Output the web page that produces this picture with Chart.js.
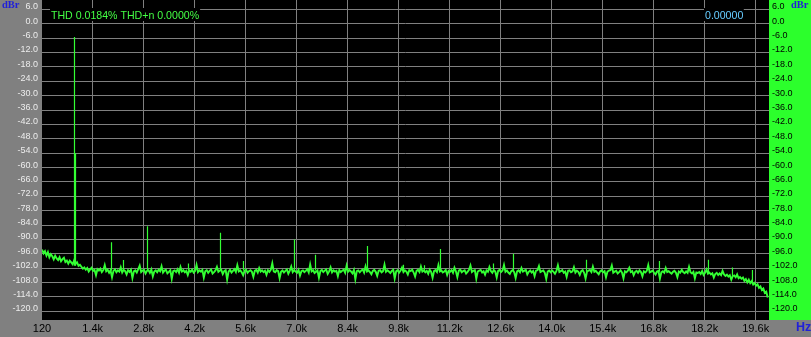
<!DOCTYPE html>
<html><head><meta charset="utf-8">
<script src="https://cdn.jsdelivr.net/npm/chart.js@4"></script>
<style>html,body{margin:0;padding:0;background:#808080;overflow:hidden}canvas{display:block}</style>
</head><body>
<canvas id="c" width="811" height="337"></canvas>
<script>
// ---- axis ranges and tick labels ----
const X_MIN = 8, X_MAX = 19965;
const Y_MIN = -123.6, Y_MAX = 9.9;
const xTickValues = [8, 1400, 2800, 4200, 5600, 7000, 8400, 9800, 11200, 12600, 14000, 15400, 16800, 18200, 19600];
const xTickLabels = ['120', '1.4k', '2.8k', '4.2k', '5.6k', '7.0k', '8.4k', '9.8k', '11.2k', '12.6k', '14.0k', '15.4k', '16.8k', '18.2k', '19.6k'];
const yTickValues = [6, 0, -6, -12, -18, -24, -30, -36, -42, -48, -54, -60, -66, -72, -78, -84, -90, -96, -102, -108, -114, -120];

// ---- noise floor: one value per 40 Hz bin starting at 10 Hz (dBr) ----
const NOISE_START_HZ = 10, NOISE_BIN_HZ = 40;
const noiseFloorDb = [
-94.2,-95.8,-94.9,-96.7,-95.3,-97.4,-96.1,-97.0,-98.3,-96.8,
-97.9,-98.6,-97.4,-99.1,-98.2,-97.6,-99.4,-98.8,-100.1,-98.9,
-99.6,-100.4,-98.7,-100.2,-99.5,-101.0,-100.6,-101.4,-102.2,-101.7,
-102.6,-101.9,-103.4,-102.5,-101.8,-103.1,-102.7,-104.9,-102.4,-103.0,
-102.2,-103.6,-102.8,-100.7,-103.3,-102.6,-103.9,-102.9,-105.8,-103.1,
-102.5,-103.7,-102.9,-103.4,-101.6,-103.8,-102.7,-103.2,-104.6,-102.8,
-103.5,-102.6,-106.1,-103.3,-102.9,-103.8,-102.4,-100.9,-103.6,-103.0,
-102.7,-104.2,-103.1,-102.8,-103.9,-102.5,-105.4,-103.4,-102.9,-103.7,
-102.6,-103.3,-101.2,-103.8,-103.0,-102.7,-104.1,-103.5,-102.8,-106.4,
-103.2,-102.9,-103.6,-102.4,-103.9,-101.5,-103.4,-102.8,-103.7,-103.1,
-104.8,-102.9,-103.5,-102.6,-103.8,-103.2,-100.6,-103.6,-102.9,-103.4,
-102.7,-105.9,-103.3,-102.8,-103.9,-103.1,-102.5,-104.2,-103.6,-102.9,
-101.4,-103.5,-103.0,-102.7,-104.4,-103.2,-102.8,-106.7,-103.4,-102.6,
-103.8,-103.1,-102.4,-103.6,-100.8,-103.3,-102.9,-103.7,-104.9,-103.0,
-102.6,-103.9,-103.2,-102.8,-103.5,-105.6,-103.1,-102.7,-103.8,-101.9,
-103.4,-102.9,-103.6,-103.0,-104.7,-102.8,-103.5,-102.6,-99.9,-103.3,
-103.7,-102.8,-103.2,-106.2,-103.5,-102.9,-103.8,-103.1,-102.5,-104.3,
-103.0,-101.3,-103.6,-102.8,-103.4,-103.9,-102.7,-105.1,-103.2,-102.9,
-103.6,-103.1,-102.4,-103.8,-100.4,-103.3,-102.8,-104.0,-103.5,-102.9,
-106.0,-103.2,-102.7,-103.6,-103.0,-102.5,-104.4,-103.3,-101.6,-103.7,
-102.9,-103.4,-103.1,-105.3,-102.8,-103.6,-103.0,-102.6,-103.9,-100.9,
-103.5,-102.8,-103.3,-104.1,-102.7,-106.6,-103.2,-102.9,-103.7,-103.0,
-102.5,-103.8,-101.2,-103.4,-102.9,-103.6,-104.5,-103.1,-102.7,-103.5,
-105.2,-103.0,-102.8,-103.7,-103.2,-100.5,-103.5,-102.9,-103.4,-104.0,
-103.1,-102.6,-106.3,-103.3,-102.8,-103.9,-103.0,-101.7,-103.6,-102.9,
-103.4,-104.6,-102.8,-103.2,-102.6,-103.8,-105.5,-103.1,-102.7,-103.6,
-101.3,-103.4,-102.9,-103.7,-103.1,-104.3,-102.6,-103.5,-106.0,-103.2,
-102.8,-103.6,-100.7,-103.3,-102.9,-103.8,-103.4,-102.7,-104.8,-103.1,
-103.5,-102.8,-103.9,-101.8,-103.3,-105.7,-103.0,-102.6,-103.7,-103.2,
-102.9,-104.2,-103.5,-102.7,-100.9,-103.6,-103.1,-102.8,-106.4,-103.4,
-103.0,-102.7,-103.8,-103.3,-104.7,-102.9,-103.5,-101.5,-103.2,-103.9,
-102.8,-103.4,-105.9,-103.1,-102.7,-103.6,-103.0,-100.6,-103.5,-102.9,
-103.8,-104.4,-103.2,-102.8,-103.6,-106.1,-103.3,-102.9,-103.7,-101.9,
-103.4,-103.0,-102.7,-104.6,-103.5,-102.9,-103.8,-103.2,-105.3,-103.0,
-102.8,-101.1,-103.6,-103.2,-102.9,-103.9,-106.5,-103.4,-103.0,-103.7,
-102.9,-103.5,-104.3,-103.1,-100.8,-103.6,-103.2,-102.8,-103.9,-103.4,
-105.6,-103.1,-102.9,-103.7,-103.3,-101.6,-103.8,-103.0,-103.5,-104.8,
-103.2,-102.8,-103.9,-106.3,-103.4,-103.0,-102.7,-103.6,-101.3,-103.5,
-103.1,-103.8,-104.5,-103.3,-102.9,-103.7,-103.2,-105.8,-103.5,-103.0,
-102.8,-100.9,-103.9,-103.4,-103.1,-104.2,-103.6,-102.9,-103.8,-106.2,
-103.3,-103.7,-103.0,-101.8,-103.6,-103.2,-104.9,-103.5,-103.1,-103.9,
-102.9,-103.6,-105.4,-103.3,-103.8,-103.1,-100.7,-103.7,-103.4,-103.0,
-103.9,-104.6,-103.4,-103.1,-106.4,-103.7,-103.3,-103.9,-101.9,-103.6,
-103.2,-103.8,-104.3,-103.5,-103.1,-103.9,-105.7,-103.4,-103.8,-102.7,
-103.6,-104.1,-103.3,-103.9,-101.4,-103.7,-104.2,-103.5,-106.2,-103.8,
-104.0,-103.6,-104.4,-103.2,-104.8,-103.9,-102.5,-104.3,-103.8,-104.6,
-104.1,-105.9,-104.4,-103.9,-104.8,-104.2,-104.9,-103.1,-104.6,-105.2,
-104.7,-105.5,-104.9,-106.8,-105.3,-105.0,-105.8,-104.6,-106.2,-105.7,
-106.4,-105.9,-107.3,-106.5,-107.9,-106.8,-108.2,-107.4,-108.8,-108.1,
-109.3,-108.7,-110.2,-109.6,-111.1,-110.5,-112.3,-111.8,-114.2
];

// ---- discrete spectral lines (fundamental, harmonics, spurs) ----
const spikeHz     = [900, 928, 1916, 2245, 2904, 4029, 4908, 5539, 6939, 7516, 8943, 9931, 10508, 10947, 12402, 12951, 14955, 16958, 18303, 18962, 19511];
const spikePeakDb = [-5.5, -54, -91.2, -98.6, -84.5, -100, -87.2, -99, -90, -96.4, -92.7, -100.6, -100.8, -94, -100, -96, -98.5, -99, -98.5, -101.7, -102.7];
const spikeBaseDb = [-101, -101, -103, -103, -103, -103, -103, -103, -103, -103, -103, -103, -103, -103, -103, -103, -103.5, -103.5, -104, -105.5, -108];

const GRID = '#808080';
const TRACE = '#33ff33';
const FONT = '"Liberation Sans", Arial, sans-serif';

const noiseData = noiseFloorDb.map((v, i) => ({ x: NOISE_START_HZ + i * NOISE_BIN_HZ, y: v }));
const spikeData = [];
spikeHz.forEach((f, i) => {
  spikeData.push({ x: f, y: spikeBaseDb[i] }, { x: f, y: spikePeakDb[i] }, { x: f, y: null });
});

const panels = {
  id: 'panels',
  beforeDraw(chart) {
    const { ctx, chartArea: a, width, height } = chart;
    ctx.save();
    ctx.fillStyle = '#808080';
    ctx.fillRect(0, 0, width, height);
    ctx.fillStyle = '#2cff2c';
    ctx.fillRect(a.right, 0, width - a.right, a.bottom);
    ctx.fillStyle = '#000000';
    ctx.fillRect(a.left, a.top, a.right - a.left, a.bottom - a.top);
    ctx.restore();
  }
};

const overlay = {
  id: 'overlay',
  afterDraw(chart) {
    const { ctx, chartArea: a } = chart;
    ctx.save();
    ctx.textBaseline = 'alphabetic';
    ctx.textAlign = 'left';
    ctx.font = '10.6px ' + FONT;
    const t1 = 'THD 0.0184% THD+n 0.0000%';
    const w1 = ctx.measureText(t1).width;
    ctx.fillStyle = '#000';
    ctx.fillRect(a.left + 8, 8, w1 + 2, 13);
    ctx.fillStyle = '#44ff44';
    ctx.fillText(t1, a.left + 9, 18.5);
    const t2 = '0.00000';
    const w2 = ctx.measureText(t2).width;
    ctx.fillStyle = '#000';
    ctx.fillRect(704, 8, w2 + 1.5, 13);
    ctx.fillStyle = '#66ccff';
    ctx.fillText(t2, 705, 18.5);
    ctx.fillStyle = '#2020d8';
    ctx.font = 'bold 10.5px "Liberation Serif", "Times New Roman", serif';
    ctx.fillText('dBr', 2, 7.8);
    ctx.fillText('dBr', 791, 8.3);
    ctx.font = 'bold 12.5px ' + FONT;
    ctx.fillText('Hz', 796, 331);
    ctx.restore();
  }
};

function yAxis(position, color, padding, showGrid) {
  return {
    type: 'linear', position, min: Y_MIN, max: Y_MAX,
    afterBuildTicks: s => { s.ticks = yTickValues.map(v => ({ value: v })); },
    afterFit: s => { s.width = 42; s.paddingTop = 0; s.paddingBottom = 0; },
    ticks: { color, padding, labelOffset: -2.5, autoSkip: false, font: { family: FONT, size: 9 },
             callback: v => Number(v).toFixed(1) },
    grid: { display: showGrid, color: GRID, lineWidth: 1, drawTicks: false },
    border: { display: false }
  };
}

new Chart(document.getElementById('c'), {
  type: 'line',
  data: {
    datasets: [
      { data: noiseData, borderColor: TRACE, borderWidth: 1.9, pointRadius: 0, tension: 0, yAxisID: 'y' },
      { data: spikeData, borderColor: TRACE, borderWidth: 1.2, pointRadius: 0, tension: 0, spanGaps: false, yAxisID: 'y' }
    ]
  },
  options: {
    responsive: false, animation: false, devicePixelRatio: 1,
    layout: { padding: 0 },
    plugins: { legend: { display: false }, tooltip: { enabled: false } },
    scales: {
      x: {
        type: 'linear', position: 'bottom', min: X_MIN, max: X_MAX,
        afterBuildTicks: s => { s.ticks = xTickValues.map(v => ({ value: v })); },
        afterFit: s => { s.height = 17; s.paddingLeft = 0; s.paddingRight = 0; },
        ticks: { color: '#000', padding: 2, maxRotation: 0, autoSkip: false, font: { family: FONT, size: 11 },
                 callback: (v, i) => xTickLabels[i] },
        grid: { color: c => c.index === 0 ? 'rgba(0,0,0,0)' : GRID, lineWidth: 1, drawTicks: false },
        border: { display: false }
      },
      y: yAxis('left', '#ececec', 4, true),
      y2: yAxis('right', '#000000', 3, false)
    }
  },
  plugins: [panels, overlay]
});
</script>
</body></html>
